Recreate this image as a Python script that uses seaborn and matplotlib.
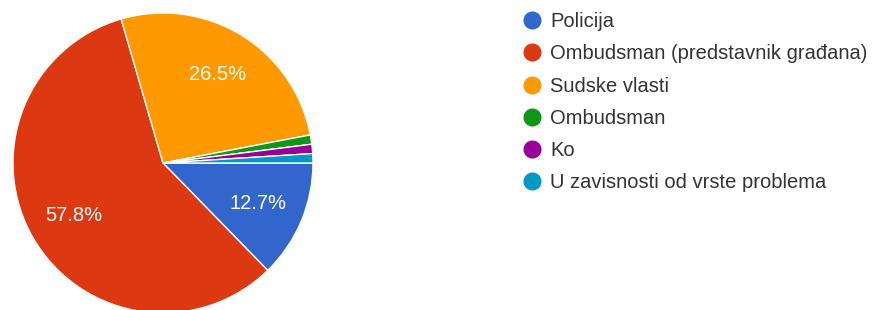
import matplotlib
matplotlib.use("Agg")
import matplotlib.pyplot as plt
from matplotlib.lines import Line2D
import seaborn as sns

labels = ["Policija", "Ombudsman (predstavnik građana)", "Sudske vlasti",
          "Ombudsman", "Ko", "U zavisnosti od vrste problema"]
shares = [12.7, 57.8, 26.5, 1.0, 1.0, 1.0]
colors = ["#3366CC", "#DC3912", "#FF9900", "#109618", "#990099", "#0099C6"]

sns.set_theme(style="white")
plt.rcParams["font.family"] = ["Liberation Sans", "DejaVu Sans"]

fig = plt.figure(figsize=(8.72, 3.10), dpi=100)
ax = fig.add_axes([13 / 872, -3 / 310, 300 / 872, 300 / 310])

wedges, texts, autotexts = ax.pie(
    shares, colors=colors, startangle=0, counterclock=False,
    autopct=lambda p: f"{p:.1f}%" if p > 5 else "", pctdistance=0.69,
    wedgeprops=dict(edgecolor="white", linewidth=1),
    textprops=dict(color="white", fontsize=14.5))
ax.set_xlim(-1, 1)
ax.set_ylim(-1, 1)
ax.set_aspect("equal")

handles = [Line2D([], [], marker="o", linestyle="", markersize=12,
                  markerfacecolor=c, markeredgecolor=c) for c in colors]
fig.legend(handles, labels, loc="upper left", bbox_to_anchor=(522 / 872, 1 - 12 / 310),
           frameon=False, fontsize=14.5, labelspacing=0.66, handlelength=1.0,
           handletextpad=0.4, borderpad=0, borderaxespad=0, labelcolor="#333333")

fig.savefig("out.png", dpi=100, facecolor="white")
